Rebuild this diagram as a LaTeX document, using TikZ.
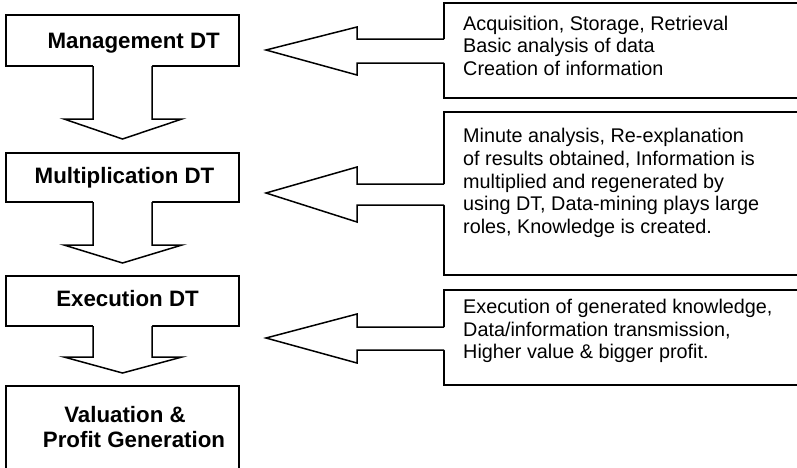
\documentclass[tikz,border=0pt]{standalone}
\usepackage{fontspec}
\setmainfont{Liberation Sans}
\begin{document}
\begin{tikzpicture}[x=1pt,y=-1pt,
  lw/.style={line width=1.5pt,line join=miter},
  lbox/.style={draw,lw,minimum width=233pt,inner sep=0pt},
  rbox/.style={draw,lw,minimum width=366pt,inner sep=0pt},
  ltext/.style={anchor=base,inner sep=0pt,font=\fontsize{22.3pt}{24.6pt}\selectfont\bfseries},
  rtext/.style={anchor=base west,inner sep=0pt,font=\fontsize{19.8pt}{22.6pt}\selectfont}]
\useasboundingbox (0,0) rectangle (797,467);
\clip (0,0) rectangle (797,467);
% left boxes
\node[lbox,minimum height=51pt] (m1) at (122.5,40.5) {};
\node[lbox,minimum height=49pt] (m2) at (122.5,177.5) {};
\node[lbox,minimum height=50pt] (m3) at (122.5,301) {};
\node[lbox,minimum height=94pt] (m4) at (122.5,433) {};
\node[ltext] (t1) at (133.7,48.3) {Management DT};
\node[ltext] (t2) at (124.5,183.3) {Multiplication DT};
\node[ltext] (t3) at (127.5,306.7) {Execution DT};
\node[ltext] (t4a) at (125,422.7) {Valuation \&};
\node[ltext] (t4b) at (134,447.3) {Profit Generation};
% right boxes
\node[rbox,minimum height=95pt] (r1) at (627,50.5) {};
\node[rbox,minimum height=163pt] (r2) at (627,193.5) {};
\node[rbox,minimum height=95pt] (r3) at (627,337.5) {};
\node[rtext] (s1a) at (463,30) {Acquisition, Storage, Retrieval};
\node[rtext] (s1b) at (463,52.6) {Basic analysis of data};
\node[rtext] (s1c) at (463,75.2) {Creation of information};
\node[rtext] (s2a) at (463,142.7) {Minute analysis, Re-explanation};
\node[rtext] (s2b) at (463,165.4) {of results obtained, Information is};
\node[rtext] (s2c) at (463,188.1) {multiplied and regenerated by};
\node[rtext] (s2d) at (463,210.8) {using DT, Data-mining plays large};
\node[rtext] (s2e) at (463,233.5) {roles, Knowledge is created.};
\node[rtext] (s3a) at (463,313.3) {Execution of generated knowledge,};
\node[rtext] (s3b) at (463,336) {Data/information transmission,};
\node[rtext] (s3c) at (463,358.7) {Higher value \& bigger profit.};
% down block arrows
\newcommand\downblock[3]{%
  \fill[white] (93,#1-2) -- (93,#2) -- (64,#2) -- (122.5,#3) -- (182,#2) -- (152,#2) -- (152,#1-2) -- cycle;
  \draw[lw] (93,#1) -- (93,#2) -- (64,#2) -- (122.5,#3) -- (182,#2) -- (152,#2) -- (152,#1);}
\downblock{66}{119}{139}
\downblock{202}{245}{263}
\downblock{326}{357}{373}
% left block arrows
\newcommand\leftblock[6]{% tip y, head top, shaft top, shaft bottom, head bottom
  \fill[white] (446,#3) -- (357,#3) -- (357,#2) -- (266,#1) -- (357,#5) -- (357,#4) -- (446,#4) -- cycle;
  \draw[lw] (444,#3) -- (357,#3) -- (357,#2) -- (266,#1) -- (357,#5) -- (357,#4) -- (444,#4);}
\leftblock{50}{27}{39}{63}{75}{}
\leftblock{193}{167}{184}{205}{222}{}
\leftblock{338}{314}{327}{350}{363}{}
\end{tikzpicture}
\end{document}
